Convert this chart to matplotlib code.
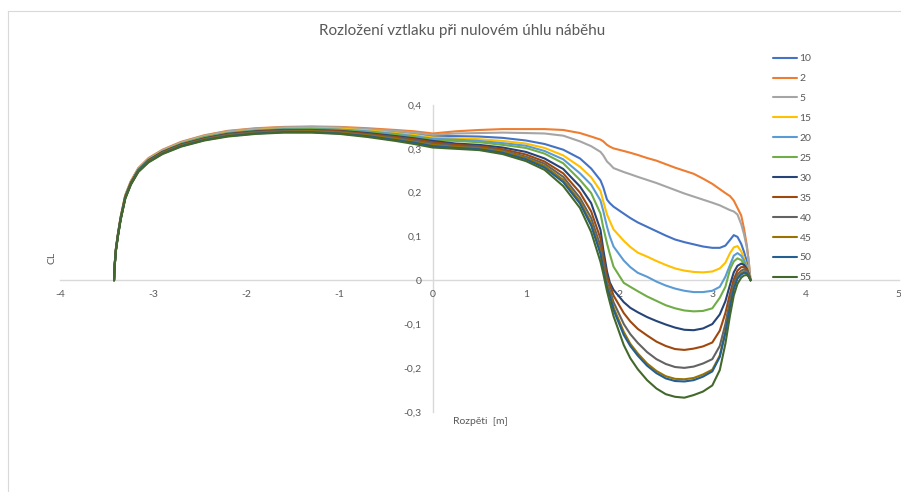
import matplotlib
matplotlib.use("Agg")
import matplotlib.pyplot as plt
from matplotlib.lines import Line2D

# ---------------- data ----------------
span_x = [-3.42, -3.415, -3.40, -3.38, -3.35, -3.30, -3.24, -3.16, -3.05, -2.9, -2.7, -2.45, -2.2,
          -1.9, -1.6, -1.3, -1.0, -0.7, -0.4, -0.2, 0.0,
          0.25, 0.5, 0.75, 1.0, 1.2, 1.4, 1.58, 1.7, 1.8, 1.83, 1.87, 1.90, 1.94, 2.05, 2.12, 2.2, 2.3,
          2.4, 2.5, 2.6, 2.7, 2.8, 2.9, 3.0, 3.08, 3.14, 3.19, 3.23, 3.27, 3.31, 3.34, 3.37, 3.39, 3.41]

cl_10 = [0, .031, .072, .103, .143, .193, .225, .254, .277, .296, .314, .329, .339, .345, .348, .348, .347, .343, .338, .335, .329,
         .329, .328, .325, .319, .311, .298, .278, .255, .228, .212, .184, .176, .168, .152, .142, .132, .122, .112, .102, .093, .087,
         .082, .077, .074, .074, .079, .092, .103, .099, .083, .065, .043, .025, 0]
cl_2 = [0, .032, .073, .104, .144, .194, .226, .256, .279, .298, .316, .331, .341, .347, .350, .351, .350, .347, .343, .340, .335,
        .340, .343, .345, .345, .345, .343, .336, .328, .321, .317, .309, .305, .301, .295, .291, .286, .279, .273, .265, .257, .250,
        .243, .232, .220, .208, .199, .192, .182, .165, .148, .118, .080, .045, 0]
cl_5 = [0, .032, .072, .103, .143, .193, .225, .255, .278, .297, .315, .330, .340, .346, .349, .350, .349, .345, .341, .337, .332,
        .335, .336, .337, .336, .335, .330, .317, .306, .293, .285, .271, .265, .256, .247, .242, .236, .229, .222, .214, .206, .198,
        .191, .184, .177, .171, .165, .160, .157, .150, .128, .105, .075, .045, 0]
cl_15 = [0, .031, .071, .102, .142, .192, .224, .254, .276, .295, .313, .328, .337, .343, .346, .347, .346, .342, .336, .332, .326,
         .324, .322, .318, .312, .302, .285, .259, .235, .204, .180, .150, .135, .116, .090, .076, .063, .054, .044, .035, .027, .022,
         .019, .018, .020, .027, .040, .062, .075, .078, .066, .050, .033, .018, 0]
cl_20 = [0, .031, .071, .102, .141, .191, .223, .253, .275, .294, .312, .327, .336, .342, .345, .346, .344, .340, .334, .329, .323,
         .321, .318, .313, .307, .295, .276, .244, .218, .182, .158, .122, .100, .077, .045, .030, .017, .008, -.003, -.012, -.019, -.024,
         -.027, -.027, -.024, -.015, .008, .035, .056, .062, .056, .045, .030, .016, 0]
cl_25 = [0, .030, .070, .101, .141, .190, .222, .252, .274, .293, .311, .326, .335, .341, .344, .345, .343, .338, .332, .327, .320,
         .318, .315, .309, .302, .289, .267, .229, .199, .152, .120, .084, .060, .031, -.006, -.015, -.025, -.037, -.047, -.057, -.064, -.069,
         -.071, -.070, -.064, -.040, -.015, .025, .043, .050, .046, .038, .024, .012, 0]
cl_30 = [0, .030, .070, .101, .140, .190, .222, .251, .274, .293, .310, .324, .334, .340, .343, .343, .341, .336, .329, .324, .318,
         .312, .309, .303, .293, .278, .254, .214, .176, .115, .070, .020, -.005, -.022, -.050, -.063, -.073, -.084, -.093, -.101, -.108, -.113,
         -.114, -.110, -.100, -.078, -.048, -.010, .018, .033, .038, .035, .026, .015, 0]
cl_35 = [0, .029, .069, .100, .140, .189, .221, .250, .273, .292, .309, .323, .333, .339, .342, .342, .340, .334, .327, .322, .315,
         .309, .306, .299, .287, .271, .244, .200, .157, .095, .055, .008, -.010, -.035, -.075, -.094, -.111, -.126, -.140, -.150, -.157, -.159,
         -.156, -.151, -.142, -.115, -.075, -.030, .002, .022, .030, .030, .025, .015, 0]
cl_40 = [0, .029, .069, .100, .139, .188, .220, .249, .272, .291, .308, .322, .332, .338, .341, .341, .338, .332, .325, .319, .312,
         .306, .303, .296, .282, .266, .236, .188, .142, .078, .040, -.005, -.022, -.050, -.100, -.123, -.143, -.164, -.180, -.191, -.198, -.200,
         -.197, -.190, -.180, -.150, -.100, -.045, -.008, .013, .022, .025, .021, .013, 0]
cl_45 = [0, .029, .068, .099, .138, .187, .219, .249, .271, .290, .307, .321, .330, .336, .339, .340, .337, .331, .323, .316, .309,
         .304, .301, .294, .279, .261, .229, .180, .130, .066, .030, -.012, -.030, -.062, -.118, -.145, -.167, -.190, -.207, -.219, -.225, -.226,
         -.223, -.215, -.204, -.172, -.117, -.057, -.017, .007, .016, .020, .018, .011, 0]
cl_50 = [0, .028, .068, .099, .138, .187, .219, .248, .270, .289, .306, .320, .329, .335, .338, .338, .335, .329, .320, .314, .306,
         .302, .299, .291, .276, .257, .224, .175, .125, .060, .025, -.017, -.035, -.068, -.125, -.150, -.172, -.195, -.212, -.224, -.230, -.231,
         -.228, -.220, -.208, -.175, -.120, -.060, -.020, .004, .013, .017, .016, .010, 0]
cl_55 = [0, .028, .067, .098, .137, .186, .218, .247, .269, .288, .305, .319, .328, .334, .337, .337, .334, .327, .318, .311, .303,
         .300, .297, .288, .272, .252, .215, .165, .110, .042, .015, -.025, -.050, -.082, -.148, -.178, -.203, -.228, -.247, -.260, -.266, -.268,
         -.262, -.254, -.240, -.205, -.145, -.080, -.035, -.008, .006, .011, .012, .008, 0]

series_names = ["10", "2", "5", "15", "20", "25", "30", "35", "40", "45", "50", "55"]
series_values = [cl_10, cl_2, cl_5, cl_15, cl_20, cl_25, cl_30, cl_35, cl_40, cl_45, cl_50, cl_55]
series_colors = ["#4472C4", "#ED7D31", "#A5A5A5", "#FFC000", "#5B9BD5", "#70AD47",
                 "#264478", "#9E480E", "#636363", "#997300", "#255E91", "#43682B"]

x_ticks = [-4, -3, -2, -1, 0, 1, 2, 3, 4, 5]
x_tick_labels = ["-4", "-3", "-2", "-1", "0", "1", "2", "3", "4", "5"]
y_ticks = [-0.3, -0.2, -0.1, 0.0, 0.1, 0.2, 0.3, 0.4]
y_tick_labels = ["-0,3", "-0,2", "-0,1", "0", "0,1", "0,2", "0,3", "0,4"]

title = "Rozložení vztlaku při nulovém úhlu náběhu"
x_label = "Rozpěti  [m]"
y_label = "CL"

# ---------------- figure ----------------
plt.rcParams["font.family"] = ["Lato", "DejaVu Sans"]
W, H = 901, 492
fig = plt.figure(figsize=(W / 100, H / 100), dpi=100)
fig.patch.set_facecolor("white")

ax = fig.add_axes([60 / W, 1 - 411.7 / H, (898.7 - 60) / W, (411.7 - 105) / H])
ax.set_facecolor("none")

for name, vals, col in zip(series_names, series_values, series_colors):
    ax.plot(span_x, vals, color=col, lw=1.5, label=name, solid_joinstyle="round", solid_capstyle="round")

ax.set_xlim(-4, 5)
ax.set_ylim(-0.3, 0.4)
ax.set_xticks(x_ticks)
ax.set_xticklabels(x_tick_labels)
ax.set_yticks(y_ticks)
ax.set_yticklabels(y_tick_labels)

for s in ("top", "right"):
    ax.spines[s].set_visible(False)
ax.spines["left"].set_position(("data", 0))
ax.spines["bottom"].set_position(("data", 0))
for s in ("left", "bottom"):
    ax.spines[s].set_color("#D9D9D9")
    ax.spines[s].set_linewidth(1.0)
    ax.spines[s].set_zorder(0.5)

ax.tick_params(axis="both", length=0, labelsize=7.5, labelcolor="#595959")
ax.tick_params(axis="x", pad=7)
ax.tick_params(axis="y", pad=8)

fig.text(462 / W, 1 - 31 / H, title, ha="center", va="center", fontsize=11, color="#595959")
fig.text(52 / W, 1 - 258 / H, y_label, ha="center", va="center", rotation=90, fontsize=7.5, color="#595959")
fig.text(480 / W, 1 - 422 / H, x_label, ha="center", va="center", fontsize=7.5, color="#595959")

leg = fig.legend(loc="upper left", bbox_to_anchor=(773 / W, 1 - 54 / H), frameon=False,
                 fontsize=7.5, handlelength=2.3, handletextpad=0.25, labelspacing=1.02,
                 borderpad=0, borderaxespad=0)
for t in leg.get_texts():
    t.set_color("#595959")

# chart area border (partially visible)
fig.add_artist(Line2D([7.5 / W, 7.5 / W], [0, 1 - 11 / H], transform=fig.transFigure, color="#D9D9D9", lw=0.8))
fig.add_artist(Line2D([7.5 / W, 1], [1 - 11 / H, 1 - 11 / H], transform=fig.transFigure, color="#D9D9D9", lw=0.8))

fig.savefig("out.png", dpi=100)
